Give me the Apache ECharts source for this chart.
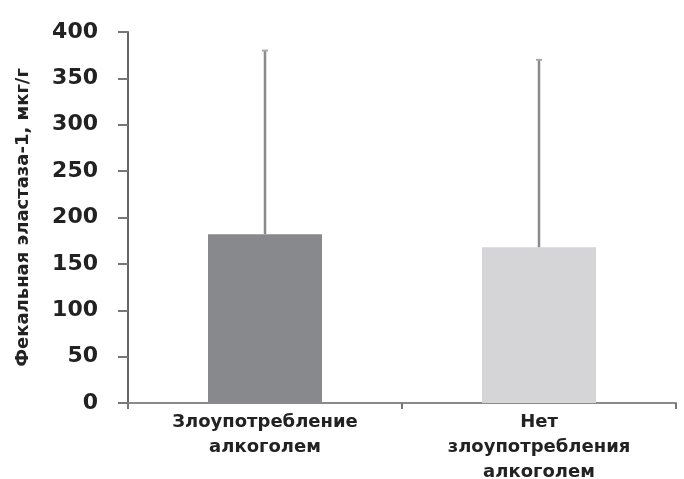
<!DOCTYPE html>
<html>
<head>
<meta charset="utf-8">
<script src="https://cdn.jsdelivr.net/npm/echarts@6/dist/echarts.min.js"></script>
<style>
html,body{margin:0;padding:0;background:#fff;}
#chart{width:684px;height:479px;}
</style>
</head>
<body>
<div id="chart"></div>
<script>
const categories = ['Злоупотребление\nалкоголем', 'Нет\nзлоупотребления\nалкоголем'];
const meanValues = [182, 168];
const upperValues = [380, 370];
const barColors = ['#88898d', '#d5d5d7'];
const yTicks = [0, 50, 100, 150, 200, 250, 300, 350, 400];
const yAxisName = 'Фекальная эластаза-1, мкг/г';

const chart = echarts.init(document.getElementById('chart'));
const font = 'DejaVu Sans';
chart.setOption({
  animation: false,
  grid: {left: 128, right: 8, top: 32, bottom: 76, outerBoundsMode: 'none', containLabel: false},
  xAxis: {
    type: 'category',
    data: categories,
    axisLine: {lineStyle: {color: '#8a8a8a', width: 2}},
    axisTick: {show: true, length: 6, lineStyle: {color: '#777', width: 2}},
    axisLabel: {color: '#222', fontFamily: font, fontSize: 18, fontWeight: 'bold', lineHeight: 25, margin: 7}
  },
  yAxis: {
    type: 'value',
    min: yTicks[0],
    max: yTicks[yTicks.length - 1],
    interval: 50,
    name: yAxisName,
    nameLocation: 'middle',
    nameGap: 96,
    nameRotate: 90,
    nameTextStyle: {color: '#222', fontFamily: font, fontSize: 18, fontWeight: 'bold'},
    axisLine: {show: true, lineStyle: {color: '#666', width: 2}},
    axisTick: {show: true, length: 10, lineStyle: {color: '#777', width: 2}},
    splitLine: {show: false},
    axisLabel: {color: '#222', fontFamily: font, fontSize: 22, fontWeight: 'bold', margin: 30}
  },
  series: [
    {
      type: 'bar',
      barWidth: '41.6%',
      data: meanValues.map((v, i) => ({value: v, itemStyle: {color: barColors[i]}})),
      z: 2
    },
    {
      type: 'custom',
      z: 3,
      data: meanValues.map((v, i) => [i, v, upperValues[i]]),
      renderItem: function (params, api) {
        const base = api.coord([api.value(0), api.value(1)]);
        const top = api.coord([api.value(0), api.value(2)]);
        const x = base[0];
        return {
          type: 'group',
          children: [
            {type: 'line', shape: {x1: x, y1: base[1], x2: x, y2: top[1]}, style: {stroke: '#8a8a8e', lineWidth: 2.5}},
            {type: 'line', shape: {x1: x - 3, y1: top[1], x2: x + 3, y2: top[1]}, style: {stroke: '#aaa', lineWidth: 2}}
          ]
        };
      }
    }
  ]
});
</script>
</body>
</html>
